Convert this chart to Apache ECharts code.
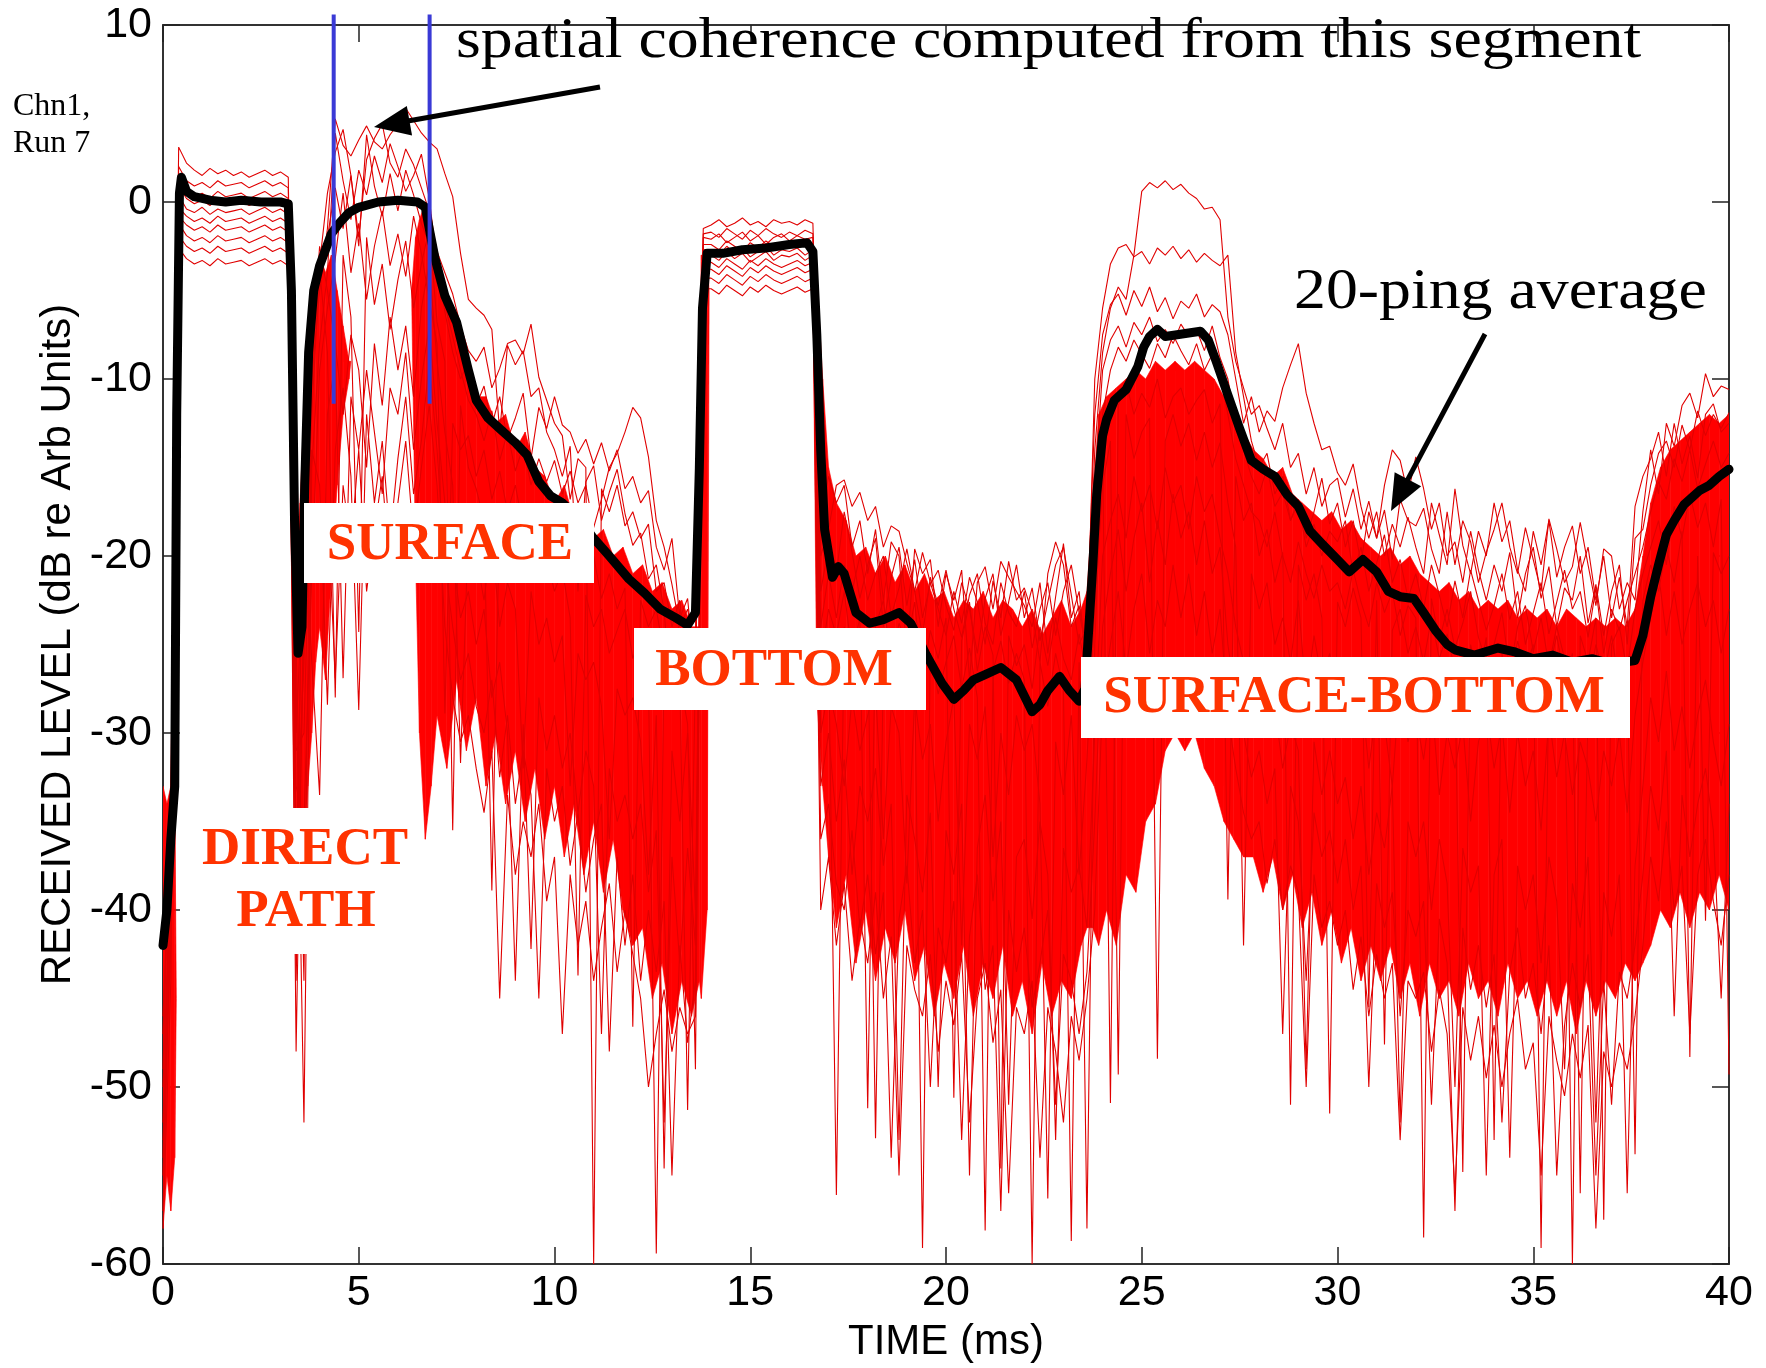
<!DOCTYPE html>
<html>
<head>
<meta charset="utf-8">
<script src="https://cdn.jsdelivr.net/npm/echarts@6/dist/echarts.min.js"></script>
<style>
html,body{margin:0;padding:0;background:#fff;}
#chart{width:1766px;height:1368px;}
</style>
</head>
<body>
<div id="chart"></div>
<script>
// ---------------- DATA ----------------
// axis ranges / ticks
const timeTicks = [0, 5, 10, 15, 20, 25, 30, 35, 40];
const levelTicks = [-60, -50, -40, -30, -20, -10, 0, 10];

// Individual pings (dB), sampled every 0.2 ms from 0 to 40 ms (201 samples each)
const SAMPLE_STEP_MS = 0.2;
const ping01 = [
 -54,-36,3.1,2.2,1.8,1.5,1.9,1.6,1.8,1.5,
 1.7,1.4,1.6,1.8,1.5,1.7,1.4,-30,-20,-10,
 -5,-1.5,4.7,3.2,2.6,3.5,4.3,3.4,3.0,3.8,
 4.4,5.3,4.6,3.9,3.4,3.0,1.6,0.3,-2.9,-5.5,
 -6.0,-6.4,-7.2,-13.0,-8.1,-9.2,-8.4,-11.0,-10.5,-13.0,
 -14.0,-15.5,-13.8,-22.0,-15.8,-14.9,-18.0,-16.4,-15.1,-17.6,
 -19.4,-18.7,-21.3,-20.5,-23.1,-28.5,-23.0,-25.5,-26.0,-1.5,
 -1.3,-1.0,-1.4,-1.2,-0.9,-1.3,-1.1,-1.4,-1.0,-1.2,
 -1.1,-1.3,-1.0,-1.2,-18.0,-15.5,-17.0,-16.0,-19.5,-18.0,
 -21.0,-18.5,-22.5,-19.2,-20.0,-25.5,-19.6,-21.0,-20.2,-24.0,
 -21.0,-22.5,-20.8,-27.0,-21.5,-20.6,-23.0,-20.3,-21.2,-22.0,
 -22.8,-24.0,-21.5,-25.5,-22.3,-19.3,-23.5,-22.0,-26.5,-14.0,
 -8.5,-6.0,-4.8,-5.5,-3.0,0.6,1.1,0.8,1.2,0.7,
 1.0,0.5,0.2,-0.4,-0.3,-1.0,-6.5,-9.0,-10.5,-12.0,
 -11.5,-12.8,-14.0,-12.5,-15.0,-14.2,-16.5,-15.0,-17.2,-16.0,
 -15.6,-17.8,-16.2,-18.5,-16.9,-19.0,-17.4,-20.2,-16.8,-18.0,
 -18.3,-17.3,-19.6,-21.0,-17.5,-20.5,-18.0,-19.2,-21.5,-19.8,
 -18.5,-17.0,-19.5,-21.0,-18.4,-20.2,-22.0,-17.9,-19.6,-21.5,
 -20.6,-18.1,-20.5,-22.8,-19.6,-20.0,-23.0,-21.5,-22.5,-17.5,
 -14.0,-16.5,-12.5,-13.8,-11.5,-10.8,-12.2,-9.7,-11.0,-10.4,
 -10.6];
const ping02 = [
 -57,-40,2.0,1.2,0.9,1.1,0.8,1.2,0.9,1.0,
 1.1,0.8,1.0,1.2,0.9,1.1,0.8,-36,-26,-8,
 -3.5,0.5,2.8,4.1,1.5,-2.0,2.4,3.6,4.4,2.2,
 1.4,3.0,2.1,0.8,-0.5,-2.8,-4.0,-5.2,-7.0,-8.4,
 -9.0,-8.2,-10.5,-9.4,-8.0,-7.8,-8.6,-6.9,-9.9,-11.2,
 -12.5,-13.2,-16.8,-14.5,-15.0,-60,-16.2,-17.5,-16.0,-18.3,
 -17.5,-19.0,-18.2,-22.0,-21.5,-24.0,-22.5,-26.5,-25.0,-1.8,
 -1.7,-2.0,-1.5,-1.8,-2.1,-1.6,-1.9,-1.5,-1.8,-2.0,
 -1.7,-1.9,-1.6,-1.8,-20.0,-18.5,-16.0,-15.7,-17.2,-16.4,
 -18.0,-17.2,-19.5,-18.3,-18.6,-20.4,-22.0,-19.8,-21.5,-23.0,
 -24.5,-22.0,-23.8,-21.2,-22.6,-25.0,-21.4,-23.5,-20.3,-22.5,
 -21.8,-23.2,-26.0,-21.0,-19.2,-20.5,-24.0,-22.8,-25.5,-10.0,
 -6.0,-3.5,-2.6,-2.4,-3.1,-2.8,-3.5,-2.6,-3.0,-2.5,
 -3.2,-2.7,-3.4,-2.9,-3.3,-3.6,-3.0,-8.5,-11.0,-13.5,
 -15.0,-14.2,-16.5,-15.5,-18.0,-16.8,-19.0,-17.5,-15.6,-18.2,
 -17.0,-19.5,-18.0,-20.4,-17.5,-19.0,-16.0,-14.0,-14.6,-16.5,
 -14.4,-16.2,-18.5,-17.0,-20.0,-19.2,-21.5,-18.6,-20.8,-22.5,
 -20.5,-22.0,-19.8,-23.5,-21.0,-19.5,-22.4,-20.6,-24.0,-21.8,
 -22.5,-20.0,-23.8,-21.6,-24.5,-22.0,-20.5,-25.0,-19.0,-18.5,
 -16.0,-14.2,-13.5,-15.0,-12.6,-14.0,-11.8,-13.2,-12.0,-12.8,
 -11.9];
const ping03 = [
 -49,-33,1.4,0.6,0.3,0.5,0.2,0.6,0.3,0.4,
 0.5,0.2,0.4,0.6,0.3,0.5,0.2,-27,-52,-15,
 -8.0,-4.0,3.9,1.2,-1.0,1.8,0.4,2.6,1.1,3.3,
 2.0,0.6,1.5,2.7,0.2,-3.4,-6.2,-8.5,-10.0,-9.0,
 -11.5,-10.4,-12.6,-11.0,-13.4,-12.2,-10.8,-14.5,-11.6,-12.8,
 -11.0,-12.6,-13.0,-14.2,-13.4,-14.8,-13.6,-15.2,-14.0,-16.2,
 -15.5,-17.0,-16.3,-19.5,-20.8,-19.0,-23.5,-22.4,-27.0,-2.0,
 -2.1,-1.8,-2.3,-2.0,-1.7,-2.2,-1.9,-2.4,-2.0,-1.8,
 -2.2,-1.9,-2.1,-2.0,-22.0,-19.5,-21.0,-17.5,-19.8,-22.4,
 -20.5,-19.0,-24.0,-21.2,-19.5,-22.8,-20.2,-23.5,-21.6,-20.8,
 -22.8,-24.2,-21.5,-23.0,-25.5,-22.4,-21.0,-24.5,-22.6,-20.5,
 -23.5,-21.8,-24.8,-22.6,-20.5,-19.5,-22.2,-25.0,-24.0,-12.0,
 -7.5,-5.8,-5.2,-6.4,-5.0,-5.9,-4.8,-6.2,-5.4,-6.6,
 -5.6,-6.0,-5.2,-6.5,-5.8,-6.2,-7.5,-10.0,-12.5,-11.0,
 -13.0,-11.8,-12.4,-10.5,-9.2,-8.0,-10.8,-12.5,-14.0,-13.8,
 -15.3,-16.0,-14.8,-17.2,-19.0,-17.5,-20.0,-18.2,-19.5,-17.8,
 -19.5,-21.0,-17.0,-18.8,-20.5,-16.2,-19.4,-21.0,-18.6,-20.0,
 -17.0,-19.2,-18.0,-20.8,-22.0,-18.6,-20.5,-18.0,-21.2,-19.5,
 -18.3,-21.0,-19.5,-22.5,-20.0,-23.5,-21.2,-24.0,-17.2,-15.5,
 -14.5,-13.0,-15.5,-12.5,-14.8,-13.2,-15.6,-12.0,-11.4,-13.0,
 -12.5];
const ping04 = [
 -52,-38,0.9,0.2,-0.1,0.1,-0.2,0.2,-0.1,0.0,
 0.1,-0.2,0.0,0.2,-0.1,0.1,-0.2,-41,-14,-6,
 -4.5,-2.0,0.8,-1.5,1.5,-2.5,3.8,0.9,-0.8,1.6,
 -0.5,1.8,0.4,-1.2,-2.4,-4.6,-5.8,-7.6,-9.5,-11.2,
 -12.0,-13.5,-11.8,-14.6,-13.0,-15.2,-13.8,-16.0,-14.5,-15.8,
 -14.6,-16.5,-15.2,-17.0,-16.0,-18.4,-16.8,-15.0,-14.2,-13.0,
 -11.6,-12.2,-14.4,-18.0,-19.5,-21.6,-24.0,-23.0,-25.5,-2.4,
 -2.4,-2.7,-2.2,-2.5,-2.8,-2.3,-2.6,-2.2,-2.5,-2.7,
 -2.3,-2.6,-2.4,-2.5,-24.0,-21.0,-23.5,-20.5,-22.0,-20.0,
 -22.5,-21.0,-20.0,-23.4,-21.8,-19.6,-22.0,-24.5,-21.2,-22.8,
 -20.8,-23.0,-24.6,-22.2,-21.0,-23.8,-25.0,-21.5,-23.2,-24.0,
 -22.0,-25.2,-23.0,-21.5,-24.5,-22.0,-20.5,-23.2,-25.5,-16.0,
 -9.5,-7.8,-7.0,-8.2,-6.8,-7.5,-6.5,-7.9,-7.2,-8.0,
 -6.9,-7.6,-7.2,-8.4,-7.0,-8.8,-10.0,-12.5,-14.0,-15.5,
 -16.5,-15.0,-17.2,-16.4,-18.0,-17.0,-19.5,-18.2,-20.0,-18.6,
 -19.2,-18.0,-21.0,-19.5,-22.0,-20.4,-18.8,-21.5,-20.2,-22.4,
 -21.0,-23.0,-20.5,-22.2,-24.0,-21.4,-23.5,-20.8,-22.5,-24.2,
 -22.8,-21.0,-23.6,-22.0,-25.0,-23.2,-21.5,-24.4,-22.6,-20.8,
 -23.0,-22.0,-24.6,-21.8,-25.5,-23.0,-24.2,-22.5,-21.0,-19.5,
 -17.5,-15.8,-16.8,-14.5,-15.8,-14.0,-16.2,-14.8,-13.5,-15.0,
 -14.2];
const ping05 = [
 -58,-44,0.4,-0.4,-0.6,-0.3,-0.7,-0.4,-0.6,-0.5,
 -0.4,-0.7,-0.5,-0.3,-0.6,-0.4,-0.7,-33,-35,-21,
 -9.5,-6.0,-3.2,0.5,-4.0,-1.2,-5.5,-2.5,-0.5,-3.6,
 -1.8,-4.2,-0.8,-2.9,-5.5,-8.0,-28.9,-12.5,-14.0,-13.2,
 -15.5,-14.0,-16.8,-15.2,-17.5,-16.0,-18.4,-17.0,-19.2,-17.8,
 -19.0,-18.2,-20.5,-19.4,-21.0,-20.0,-22.4,-21.0,-23.0,-21.8,
 -46.6,-22.5,-24.0,-23.0,-25.6,-24.2,-27.0,-51.3,-26.5,-2.7,
 -2.7,-3.0,-2.5,-2.9,-2.6,-3.1,-2.8,-2.5,-3.0,-2.7,
 -2.8,-2.6,-3.0,-2.7,-26.0,-23.0,-24.5,-22.0,-25.5,-23.5,
 -51.2,-24.0,-22.5,-26.0,-23.8,-25.0,-22.6,-27.0,-24.2,-25.8,
 -23.5,-50.6,-24.8,-22.6,-26.5,-24.0,-25.6,-54.6,-24.5,-26.2,
 -25.0,-27.5,-24.0,-26.2,-23.5,-25.8,-27.0,-24.4,-26.8,-20.0,
 -12.0,-9.5,-8.2,-9.0,-7.8,-8.6,-9.4,-8.0,-8.8,-7.5,
 -8.4,-9.2,-8.0,-9.5,-8.6,-9.8,-12.0,-14.5,-16.0,-17.5,
 -18.0,-19.5,-17.5,-20.0,-21.5,-19.2,-21.0,-22.4,-20.5,-22.0,
 -21.5,-23.0,-20.8,-22.6,-24.0,-21.5,-23.2,-22.0,-24.5,-22.8,
 -23.5,-58.5,-22.4,-24.8,-23.0,-25.2,-23.8,-22.0,-24.6,-26.0,
 -25.0,-23.2,-26.5,-24.0,-22.8,-25.4,-23.5,-26.2,-24.0,-25.8,
 -60.0,-24.5,-26.0,-23.5,-57.5,-25.0,-24.0,-26.5,-23.0,-21.0,
 -19.5,-18.0,-20.5,-17.2,-19.0,-16.5,-18.4,-17.0,-19.5,-16.8,
 -49.3];
const ping06 = [
 -46,-35,-0.3,-0.8,-1.1,-0.9,-1.2,-0.8,-1.1,-1.0,
 -0.9,-1.2,-1.0,-0.8,-1.1,-0.9,-1.2,-48,-22,-12,
 -3.8,-8.5,-28.0,-3.0,-6.5,-24.3,-2.0,-5.8,-3.5,-7.2,
 -4.4,-2.2,-6.0,-3.5,-1.5,-6.8,-9.0,-35.5,-11.5,-15.0,
 -16.2,-18.0,-38.9,-17.5,-19.2,-18.0,-20.5,-19.0,-21.5,-20.2,
 -22.0,-20.8,-23.5,-43.7,-22.2,-24.0,-23.0,-25.5,-24.2,-23.0,
 -25.8,-24.5,-27.0,-59.4,-26.0,-28.2,-27.0,-29.5,-49.0,-3.0,
 -3.0,-3.3,-2.8,-3.2,-2.9,-3.4,-3.1,-2.8,-3.3,-3.0,
 -3.1,-2.9,-3.3,-3.0,-28.0,-25.0,-56.1,-24.0,-27.0,-25.5,
 -24.0,-52.9,-26.5,-24.8,-27.5,-25.2,-26.8,-59.1,-25.5,-27.8,
 -26.0,-24.5,-27.5,-25.2,-28.0,-58.1,-26.5,-24.8,-27.2,-25.5,
 -27.0,-60.0,-26.0,-28.5,-25.5,-27.5,-58.7,-26.0,-58.0,-25.0,
 -14.0,-50.9,-11.5,-10.2,-12.0,-10.8,-11.6,-10.0,-12.2,-11.0,
 -10.5,-12.0,-11.2,-10.6,-12.5,-11.4,-39.4,-15.5,-18.0,-17.0,
 -20.0,-18.5,-21.5,-19.8,-51.0,-20.5,-22.5,-21.0,-23.5,-51.5,
 -22.6,-24.0,-21.8,-23.5,-45.5,-22.5,-47.6,-24.2,-23.0,-25.5,
 -24.0,-26.0,-23.5,-25.8,-24.4,-26.5,-54.8,-25.0,-27.0,-24.6,
 -53.0,-25.5,-27.8,-24.8,-26.5,-25.0,-59.1,-26.4,-24.5,-27.0,
 -25.5,-56.0,-27.5,-25.0,-26.8,-24.5,-27.2,-25.8,-53.8,-22.5,
 -20.5,-22.0,-19.5,-21.5,-18.6,-48.3,-20.0,-40.6,-19.8,-21.0,
 -20.0];
const ping07 = [
 -55,-39,-0.8,-1.3,-1.6,-1.4,-1.7,-1.3,-1.6,-1.5,
 -1.4,-1.7,-1.5,-1.3,-1.6,-1.4,-1.7,-25,-44,-9,
 -2.5,-5.0,-8.0,-12.0,-7.5,-9.5,-15.0,-8.0,-11.5,-6.5,
 -9.5,-7.0,-11.0,-6.0,-3.5,-9.0,-13.0,-16.0,-31.7,-18.5,
 -20.0,-22.5,-19.0,-24.0,-21.5,-23.0,-32.0,-22.0,-25.0,-23.5,
 -26.0,-24.5,-33.0,-25.5,-27.0,-26.0,-28.5,-36.0,-27.5,-29.0,
 -28.0,-30.5,-38.0,-29.0,-54.6,-31.0,-35.0,-30.0,-40.0,-3.4,
 -3.4,-3.7,-3.2,-3.5,-3.8,-3.3,-3.6,-3.2,-3.5,-3.7,
 -3.5,-3.3,-3.6,-3.4,-30.0,-27.5,-29.5,-33.0,-28.0,-31.0,
 -29.0,-27.5,-36.0,-28.5,-30.0,-38.5,-28.0,-31.5,-29.5,-35.0,
 -30.5,-28.0,-42.0,-29.5,-31.5,-28.5,-37.0,-30.0,-33.5,-29.0,
 -31.0,-29.5,-34.0,-56.3,-30.5,-33.5,-29.0,-38.0,-31.5,-23.0,
 -16.0,-13.5,-49.3,-12.0,-14.5,-13.0,-12.2,-48.4,-13.5,-12.0,
 -13.8,-12.5,-14.6,-13.0,-15.0,-13.6,-17.0,-19.5,-42.0,-21.0,
 -23.0,-21.5,-25.0,-23.5,-26.0,-22.5,-28.0,-24.5,-27.0,-25.5,
 -28.5,-26.0,-30.0,-27.5,-32.0,-28.5,-29.5,-33.0,-27.0,-30.5,
 -29.0,-31.5,-28.0,-33.5,-30.0,-32.0,-29.5,-35.0,-30.5,-28.5,
 -32.0,-29.5,-34.5,-30.0,-33.0,-31.0,-35.5,-29.0,-32.5,-30.0,
 -33.5,-30.5,-32.0,-35.0,-31.0,-33.0,-30.0,-34.5,-29.0,-26.0,
 -23.5,-21.0,-24.5,-22.0,-25.0,-23.0,-21.5,-24.0,-22.5,-25.5,
 -23.0];
const ping08 = [
 -50,-37,-1.2,-1.9,-2.2,-2.0,-2.3,-1.9,-2.2,-2.1,
 -2.0,-2.3,-2.1,-1.9,-2.2,-2.0,-2.3,-38,-17,-26,
 -33.5,-12.0,-9.0,-26.9,-11.0,-14.0,-9.5,-13.0,-16.5,-10.5,
 -12.0,-8.5,-14.0,-10.0,-7.0,-12.5,-17.0,-20.0,-23.5,-22.0,
 -25.0,-23.0,-28.0,-26.0,-30.0,-44.0,-29.5,-42.2,-28.0,-31.0,
 -29.0,-32.0,-30.0,-34.5,-31.0,-33.0,-47.0,-32.0,-35.0,-33.5,
 -36.0,-34.0,-39.0,-35.5,-52.0,-37.0,-43.0,-36.5,-42.0,-3.8,
 -3.8,-4.1,-3.6,-3.9,-4.2,-3.7,-4.0,-3.6,-3.9,-4.1,
 -3.9,-3.7,-4.0,-3.8,-33.0,-30.0,-35.0,-31.5,-38.0,-33.0,
 -35.0,-32.0,-37.5,-34.0,-53.0,-33.5,-36.0,-39.0,-34.5,-50.0,
 -35.5,-38.0,-34.0,-55.0,-36.5,-33.5,-39.5,-35.0,-51.0,-37.0,
 -36.0,-40.5,-35.0,-38.0,-53.0,-36.5,-39.0,-37.5,-41.0,-30.0,
 -20.0,-18.0,-16.5,-19.0,-15.5,-17.5,-16.0,-18.5,-15.0,-17.0,
 -16.0,-18.5,-15.5,-17.5,-16.5,-19.0,-21.0,-24.0,-26.0,-28.5,
 -27.0,-30.0,-28.5,-32.0,-29.5,-31.0,-49.0,-30.5,-33.5,-31.0,
 -34.0,-32.5,-36.0,-33.0,-38.0,-34.5,-36.5,-33.0,-52.0,-35.0,
 -37.0,-35.0,-40.0,-36.0,-38.5,-50.0,-36.5,-39.0,-37.5,-55.0,
 -38.0,-36.0,-54.0,-37.5,-40.0,-38.0,-43.0,-37.0,-39.5,-49.0,
 -38.5,-41.0,-37.0,-52.0,-39.0,-41.5,-38.0,-56.0,-37.5,-33.0,
 -28.0,-30.5,-26.5,-31.0,-28.5,-32.0,-29.0,-27.0,-30.5,-33.0,
 -29.5];
const ping09 = [
 -53,-42,-1.9,-2.5,-2.8,-2.6,-2.9,-2.5,-2.8,-2.7,
 -2.6,-2.9,-2.7,-2.5,-2.8,-2.6,-2.9,-31,-30,-14,
 -16.0,-28.4,-14.0,-10.5,-15.5,-28.7,-12.0,-17.0,-13.5,-19.0,
 -14.5,-11.0,-16.5,-13.5,-9.0,-14.0,-20.5,-24.0,-27.0,-25.5,
 -28.5,-30.0,-27.0,-32.5,-29.0,-34.0,-31.0,-33.5,-45.0,-32.0,
 -35.0,-33.0,-37.5,-34.5,-39.0,-36.0,-34.0,-48.0,-37.0,-42.0,
 -38.0,-44.0,-40.0,-43.5,-39.5,-55.0,-42.0,-47.5,-44.0,-4.3,
 -4.3,-4.6,-4.1,-4.4,-4.7,-4.2,-4.5,-4.1,-4.4,-4.6,
 -4.4,-4.2,-4.5,-4.3,-36.0,-34.0,-38.5,-40.0,-35.5,-41.0,
 -38.0,-42.5,-39.0,-54.0,-40.5,-37.5,-43.0,-40.0,-50.0,-41.0,
 -43.0,-39.5,-53.0,-41.5,-38.0,-44.5,-42.0,-57.0,-40.0,-43.5,
 -41.0,-45.5,-43.0,-40.0,-51.0,-42.5,-44.0,-47.0,-43.5,-35.0,
 -24.0,-21.0,-18.5,-22.0,-19.0,-17.0,-21.5,-18.0,-20.5,-16.5,
 -19.0,-17.5,-20.5,-18.0,-21.0,-19.5,-25.0,-28.0,-30.0,-32.5,
 -31.0,-34.0,-32.0,-47.0,-33.0,-35.0,-44.0,-34.5,-37.0,-35.5,
 -38.5,-36.0,-40.0,-37.5,-50.0,-38.5,-41.0,-39.0,-46.0,-40.0,
 -41.5,-39.5,-51.0,-40.5,-43.0,-57.0,-41.0,-44.5,-42.0,-45.5,
 -42.5,-52.0,-43.5,-41.0,-45.0,-43.0,-47.0,-42.0,-55.0,-46.5,
 -43.0,-45.5,-42.5,-55.0,-44.0,-51.0,-43.5,-45.0,-42.0,-38.0,
 -33.0,-35.5,-31.0,-46.0,-33.5,-37.0,-34.0,-32.0,-35.5,-45.0,
 -34.0];
const ping10 = [
 -47,-34,-2.6,-3.2,-3.5,-3.3,-3.6,-3.2,-3.5,-3.4,
 -3.3,-3.6,-3.4,-3.2,-3.5,-3.3,-3.6,-44,-24,-18,
 -20.0,-17.0,-26.9,-16.0,-19.5,-14.0,-22.0,-18.5,-15.5,-21.0,
 -17.0,-13.5,-19.0,-15.0,-11.5,-16.0,-24.0,-28.0,-30.5,-29.0,
 -32.0,-34.5,-31.0,-45.0,-33.5,-38.0,-35.0,-37.0,-34.0,-39.5,
 -37.0,-47.0,-38.0,-42.0,-39.5,-44.0,-41.0,-38.5,-43.5,-40.0,
 -42.5,-45.0,-50.0,-47.0,-44.5,-48.0,-45.5,-47.0,-46.0,-4.9,
 -4.9,-5.2,-4.7,-5.0,-5.3,-4.8,-5.1,-4.7,-5.0,-5.2,
 -5.0,-4.8,-5.1,-4.9,-40.0,-37.0,-42.0,-38.5,-44.0,-40.5,
 -43.0,-39.0,-45.0,-41.5,-55.0,-42.0,-44.5,-46.0,-42.5,-48.0,
 -44.0,-46.5,-42.5,-52.0,-45.0,-43.0,-47.5,-44.5,-56.0,-45.5,
 -47.0,-44.0,-54.0,-45.5,-48.0,-52.0,-46.0,-48.5,-45.0,-40.0,
 -28.0,-25.0,-22.0,-26.5,-23.0,-21.0,-25.5,-22.5,-24.0,-20.5,
 -23.5,-21.0,-24.5,-22.0,-25.5,-23.0,-29.0,-32.0,-34.5,-36.0,
 -35.0,-38.5,-36.0,-40.0,-37.5,-39.0,-50.0,-38.0,-41.0,-39.5,
 -42.0,-40.0,-44.5,-41.5,-46.0,-42.5,-45.0,-43.0,-53.0,-44.0,
 -45.0,-43.5,-48.0,-44.5,-47.0,-56.0,-45.5,-48.5,-46.0,-49.5,
 -46.5,-50.0,-47.0,-45.0,-49.0,-47.5,-55.0,-46.0,-48.5,-50.5,
 -47.0,-49.5,-46.5,-58.0,-48.0,-50.0,-47.5,-49.0,-46.0,-42.0,
 -37.0,-39.5,-35.0,-40.0,-37.5,-47.0,-38.0,-36.0,-39.5,-42.0,
 -38.0];

// Dense core of the 20 overlaid pings: [time ms, upper edge dB, lower edge dB]
const coreBand = [
 [0,-33,-58],[0.1,-34,-55],[0.2,-33,-57],[0.3,-33,-54],[0.34,-45,-45],
 [3.35,-26,-26],[3.4,-22,-42],[3.5,-17,-40],[3.6,-12,-37],[3.7,-7,-33],[3.8,-5,-30],[3.9,-4,-26],[4.0,-3,-24],
 [4.15,-4,-27],[4.3,-3,-21],[4.45,-5,-16],[4.6,-7,-12],[4.75,-9,-10],[4.8,-9,-9],
 [6.35,-5,-5],[6.45,-2,-20],[6.55,-1,-30],[6.7,0,-36],[6.85,-2,-33],[7.0,-3,-29],[7.25,-6,-32],[7.5,-7,-27],
 [7.75,-10,-31],[8.0,-11,-28],[8.25,-11,-33],[8.5,-12.5,-30],[8.75,-12,-34],[9.0,-14,-31],[9.25,-13,-35],
 [9.5,-15,-32],[9.75,-15.5,-36],[10.0,-17,-33],[10.25,-16,-37],[10.5,-18,-34],[10.75,-17.5,-38],[11.0,-19,-35],
 [11.25,-18.5,-39],[11.5,-20,-36],[11.75,-19.5,-40],[12.0,-21,-42],[12.25,-20.5,-41],[12.5,-22,-45],
 [12.75,-21.5,-43],[13.0,-23,-47],[13.25,-22.5,-44],[13.5,-24,-46],[13.7,-24,-44],[13.75,-3,-45],[13.9,-3,-40],[13.95,-5,-5],
 [16.6,-4,-4],[16.7,-4,-28],[16.85,-10,-33],[17.0,-15,-37],[17.2,-17,-41],[17.45,-18,-38],[17.7,-20,-43],
 [17.95,-19.5,-40],[18.2,-21,-44],[18.45,-20,-41],[18.7,-21.5,-43],[18.95,-20.5,-40],[19.2,-22,-44],
 [19.45,-21,-42],[19.7,-22.5,-46],[19.95,-22,-43],[20.2,-23.5,-45],[20.45,-22.5,-42],[20.7,-23,-46],
 [20.95,-22,-43],[21.2,-23.5,-45],[21.45,-22.5,-42],[21.7,-23,-46],[21.95,-24,-44],[22.2,-23,-47],
 [22.45,-24.5,-43],[22.7,-23.5,-46],[22.95,-22.5,-44],[23.2,-24,-45],[23.45,-23,-42],[23.6,-22,-41],
 [23.75,-17,-41],[23.9,-12,-42],[24.1,-11,-40],[24.35,-10.5,-42],[24.6,-10,-38],[24.85,-9.5,-39],
 [25.1,-10,-35],[25.35,-9,-34],[25.6,-9.5,-31],[25.85,-9,-30],[26.1,-9.5,-31],[26.35,-9,-30],[26.6,-9.5,-32],
 [26.85,-10,-33],[27.1,-11,-35],[27.35,-12,-36],[27.6,-13,-37],[27.85,-14,-37],[28.1,-14.5,-39],
 [28.35,-15.5,-37],[28.6,-15,-40],[28.85,-16.5,-38],[29.1,-17,-41],[29.35,-17.5,-39],[29.6,-18,-42],
 [29.85,-17.5,-40],[30.1,-18.5,-43],[30.35,-18,-41],[30.6,-19,-44],[30.85,-19.5,-42],[31.1,-20,-44],
 [31.35,-19.5,-42],[31.6,-20.5,-45],[31.85,-20,-43],[32.1,-21,-46],[32.35,-21.5,-43],[32.6,-22,-45],
 [32.85,-21.5,-44],[33.1,-22.5,-46],[33.35,-22,-43],[33.6,-23,-45],[33.85,-22.5,-44],[34.1,-23,-46],
 [34.35,-22.5,-43],[34.6,-23.5,-45],[34.85,-23,-44],[35.1,-23.5,-46],[35.35,-23,-44],[35.6,-24,-46],
 [35.85,-23,-44],[36.1,-23.5,-47],[36.35,-24,-44],[36.6,-23.5,-46],[36.85,-24,-44],[37.1,-23.5,-45],
 [37.35,-24,-43],[37.6,-23,-44],[37.8,-20,-43],[38.0,-17,-42],[38.25,-15,-40],[38.5,-14,-41],
 [38.75,-13.5,-39],[39.0,-13,-41],[39.25,-12.5,-39],[39.5,-12,-40],[39.75,-12.5,-38],[40.0,-12,-40]];

// 20-ping average: [time ms, dB]
const averagePing = [
 [0,-42],[0.1,-40],[0.2,-36],[0.3,-33],[0.35,-12],[0.42,0.5],[0.47,1.4],[0.6,0.6],[0.8,0.3],[1.2,0.1],
 [1.6,0.0],[2.0,0.1],[2.5,0.0],[3.0,0.0],[3.2,-0.1],[3.28,-5],[3.36,-18],[3.45,-25.5],[3.55,-24],[3.62,-16],
 [3.72,-8.5],[3.85,-5],[4.0,-3.6],[4.3,-1.8],[4.5,-1.2],[4.75,-0.6],[5.0,-0.3],[5.5,0.0],[6.0,0.1],[6.5,0.0],
 [6.7,-0.3],[6.8,-1.5],[6.95,-3.2],[7.2,-5.3],[7.5,-6.8],[7.8,-9.5],[8.0,-11.2],[8.3,-12.2],[8.6,-12.8],[9.0,-13.6],
 [9.3,-14.3],[9.6,-15.8],[9.9,-16.6],[10.2,-17.0],[10.6,-17.8],[11.0,-19.0],[11.4,-20.0],[11.9,-21.3],[12.3,-22.1],[12.7,-23.0],
 [13.1,-23.5],[13.4,-23.9],[13.6,-23.2],[13.7,-15],[13.78,-6],[13.9,-2.9],[14.3,-2.9],[14.8,-2.7],[15.4,-2.6],[16.0,-2.4],
 [16.45,-2.3],[16.6,-2.8],[16.7,-7.5],[16.8,-14],[16.9,-18.5],[17.1,-21.2],[17.25,-20.6],[17.4,-21.0],[17.7,-23.2],[18.05,-23.8],
 [18.4,-23.6],[18.8,-23.2],[19.1,-23.8],[19.5,-25.6],[19.9,-27.2],[20.2,-28.1],[20.45,-27.6],[20.7,-27.0],[21.0,-26.7],[21.4,-26.3],
 [21.8,-27.0],[22.2,-28.8],[22.4,-28.4],[22.6,-27.6],[22.9,-26.8],[23.15,-27.6],[23.4,-28.2],[23.55,-27.5],[23.65,-24],[23.75,-20.5],
 [23.85,-16.5],[24.0,-13.2],[24.1,-12.3],[24.3,-11.2],[24.6,-10.6],[24.9,-9.3],[25.05,-8.2],[25.2,-7.6],[25.4,-7.2],[25.6,-7.6],
 [25.9,-7.5],[26.2,-7.4],[26.5,-7.3],[26.7,-7.8],[26.9,-9.0],[27.2,-10.9],[27.5,-12.8],[27.8,-14.6],[28.1,-15.1],[28.4,-15.5],
 [28.7,-16.5],[29.0,-17.2],[29.3,-18.6],[29.6,-19.3],[30.0,-20.2],[30.3,-20.9],[30.65,-20.2],[31.0,-20.9],[31.3,-22.0],[31.6,-22.3],
 [31.95,-22.4],[32.2,-23.2],[32.5,-24.2],[32.8,-25.0],[33.0,-25.3],[33.5,-25.6],[34.1,-25.2],[34.5,-25.4],[35.0,-25.8],[35.5,-25.6],
 [36.0,-26.0],[36.5,-25.8],[37.0,-26.1],[37.3,-26.0],[37.6,-25.9],[37.8,-24.5],[38.0,-22.3],[38.2,-20.5],[38.4,-18.8],[38.6,-18.0],
 [38.85,-17.1],[39.0,-16.8],[39.25,-16.3],[39.5,-16.0],[39.75,-15.5],[40.0,-15.1]];

// Segment used for spatial coherence (ms) and the extent of its markers (dB)
const segmentTimes = [4.36, 6.81];
const segmentMarkerLevels = [10.6, -11.4];

// ---------------- CHART ----------------
const pings = [ping01, ping02, ping03, ping04, ping05, ping06, ping07, ping08, ping09, ping10];
const sampleTimes = ping01.map((_, i) => Math.round(i * SAMPLE_STEP_MS * 10) / 10);

const series = [];
// dense core drawn as a band between its upper and lower edge
series.push({
  type: 'custom', name: 'core', silent: true, z: 1, clip: true, animation: false,
  data: coreBand,
  encode: { x: 0, y: [1, 2] },
  renderItem: function (params, api) {
    const i = params.dataIndex;
    if (i >= coreBand.length - 1) return null;
    const a = coreBand[i], b = coreBand[i + 1];
    if (a[1] === a[2] && b[1] === b[2]) return null;
    const pts = [api.coord([a[0], a[1]]), api.coord([b[0], b[1]]), api.coord([b[0], b[2]]), api.coord([a[0], a[2]])];
    return { type: 'polygon', shape: { points: pts }, style: { fill: '#ff0000', stroke: '#ff0000', lineWidth: 0.6 } };
  }
});
pings.forEach((p, k) => {
  series.push({
    type: 'line', name: 'ping' + (k + 1),
    data: p.map((v, i) => [sampleTimes[i], v]),
    symbol: 'none', lineStyle: { color: '#e00000', width: 1.1 },
    silent: true, z: 2, animation: false
  });
});
series.push({
  type: 'line', name: '20-ping average', data: averagePing,
  symbol: 'none', lineStyle: { color: '#000', width: 9, join: 'round', cap: 'round' },
  silent: true, z: 6, animation: false
});
segmentTimes.forEach(t => {
  series.push({
    type: 'line', data: segmentMarkerLevels.map(v => [t, v]),
    symbol: 'none', clip: false, lineStyle: { color: '#3a3ad6', width: 4 },
    silent: true, z: 7, animation: false
  });
});

function arrow(x1, y1, x2, y2, hl, hw, w) {
  const dx = x2 - x1, dy = y2 - y1, L = Math.hypot(dx, dy), ux = dx / L, uy = dy / L;
  const bx = x2 - ux * hl, by = y2 - uy * hl;
  return [
    { type: 'line', z: 100, shape: { x1: x1, y1: y1, x2: bx + ux * 3, y2: by + uy * 3 }, style: { stroke: '#000', lineWidth: w, lineCap: 'butt' } },
    { type: 'polygon', z: 100, shape: { points: [[x2, y2], [bx - uy * hw, by + ux * hw], [bx + uy * hw, by - ux * hw]] }, style: { fill: '#000' } }
  ];
}
function box(x, y, w, h) {
  return { type: 'rect', z: 90, shape: { x: x, y: y, width: w, height: h }, style: { fill: '#fff', stroke: null } };
}
function label(text, x, y, font, color, align, scaleX) {
  return {
    type: 'text', z: 95, x: x, y: y, scaleX: scaleX || 1,
    style: { text: text, font: font, fill: color, textAlign: align, align: align, textVerticalAlign: 'middle', verticalAlign: 'middle' }
  };
}
const redFont = 'bold 53px "Liberation Serif", "Times New Roman", serif';
const serifBig = '58px "Liberation Serif", "Times New Roman", serif';
const serifSmall = '32px "Liberation Serif", "Times New Roman", serif';
const red = '#ff3300';

const graphic = [
  box(304, 503, 290, 80), label('SURFACE', 450, 545, redFont, red, 'center'),
  box(634, 628, 292, 82), label('BOTTOM', 774, 671, redFont, red, 'center'),
  box(1081, 657, 549, 81), label('SURFACE-BOTTOM', 1354, 698, redFont, red, 'center'),
  box(190, 808, 230, 146), label('DIRECT', 305, 850, redFont, red, 'center'), label('PATH', 306, 912, redFont, red, 'center'),
  label('spatial coherence computed from this segment', 456, 42, serifBig, '#000', 'left', 1.1),
  label('20-ping average', 1294, 293, serifBig, '#000', 'left', 1.1),
  label('Chn1,', 13, 107, serifSmall, '#000', 'left'),
  label('Run 7', 13, 144, serifSmall, '#000', 'left'),
  ...arrow(600, 87, 374, 127, 36, 15, 5),
  ...arrow(1485, 334, 1391, 511, 36, 15, 5)
];

const axisFont = { fontFamily: '"Liberation Sans", Arial, sans-serif', fontSize: 43, color: '#000' };
const lineStyle = { color: '#333', width: 2 };
const tickStyle = { color: '#222', width: 1.5 };

function xAxisDef(pos, extra) {
  return Object.assign({
    type: 'value', min: timeTicks[0], max: timeTicks[timeTicks.length - 1], interval: timeTicks[1] - timeTicks[0],
    position: pos,
    axisLine: { show: true, onZero: false, lineStyle: lineStyle },
    axisTick: { show: true, inside: true, length: 17, lineStyle: tickStyle },
    splitLine: { show: false }
  }, extra);
}
function yAxisDef(pos, extra) {
  return Object.assign({
    type: 'value', min: levelTicks[0], max: levelTicks[levelTicks.length - 1], interval: levelTicks[1] - levelTicks[0],
    position: pos,
    axisLine: { show: true, onZero: false, lineStyle: lineStyle },
    axisTick: { show: true, inside: true, length: 17, lineStyle: tickStyle },
    splitLine: { show: false }
  }, extra);
}

const option = {
  animation: false,
  backgroundColor: '#fff',
  grid: { left: 163, right: 37, top: 25, bottom: 104, containLabel: false },
  xAxis: [
    xAxisDef('bottom', {
      name: 'TIME (ms)', nameLocation: 'middle', nameGap: 57,
      nameTextStyle: { fontFamily: '"Liberation Sans", Arial, sans-serif', fontSize: 42, color: '#000' },
      axisLabel: Object.assign({ margin: 8 }, axisFont)
    }),
    xAxisDef('top', { axisLabel: { show: false } })
  ],
  yAxis: [
    yAxisDef('left', {
      name: 'RECEIVED LEVEL (dB re Arb Units)', nameLocation: 'middle', nameGap: 80, nameRotate: 90,
      nameTextStyle: { fontFamily: '"Liberation Sans", Arial, sans-serif', fontSize: 42, color: '#000' },
      axisLabel: Object.assign({ margin: 11 }, axisFont)
    }),
    yAxisDef('right', { axisLabel: { show: false } })
  ],
  series: series,
  graphic: graphic
};

const chart = echarts.init(document.getElementById('chart'), null, { renderer: 'canvas' });
chart.setOption(option);
</script>
</body>
</html>
